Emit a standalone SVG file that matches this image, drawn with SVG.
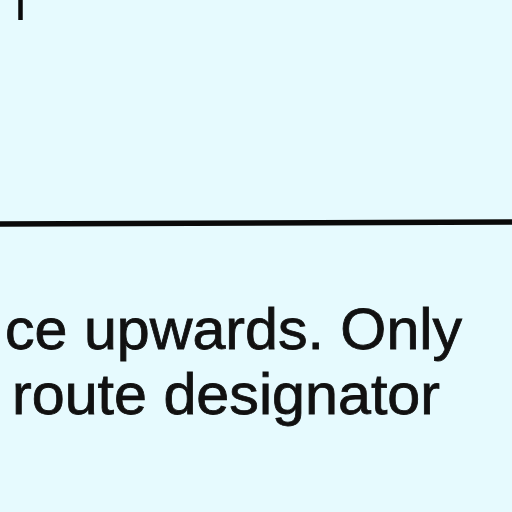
<svg xmlns="http://www.w3.org/2000/svg" width="512" height="512" viewBox="0 0 512 512">
<style>
.t{font-family:"Liberation Sans",Arial,sans-serif;font-size:57px;fill:#111;stroke:#111;stroke-width:0.8px;}
</style>
<rect width="512" height="512" fill="#e6fafe"/>
<g id="lines" stroke="#0a0a0a" fill="none">
<line x1="20.5" y1="0" x2="20.5" y2="20" stroke-width="4.5"/>
<line x1="0" y1="224" x2="512" y2="222" stroke-width="5.5"/>
</g>
<text class="t" x="5" y="349" textLength="457" lengthAdjust="spacingAndGlyphs">ce upwards. Only</text>
<text class="t" x="12" y="414" textLength="428" lengthAdjust="spacingAndGlyphs">route designator</text>
</svg>
